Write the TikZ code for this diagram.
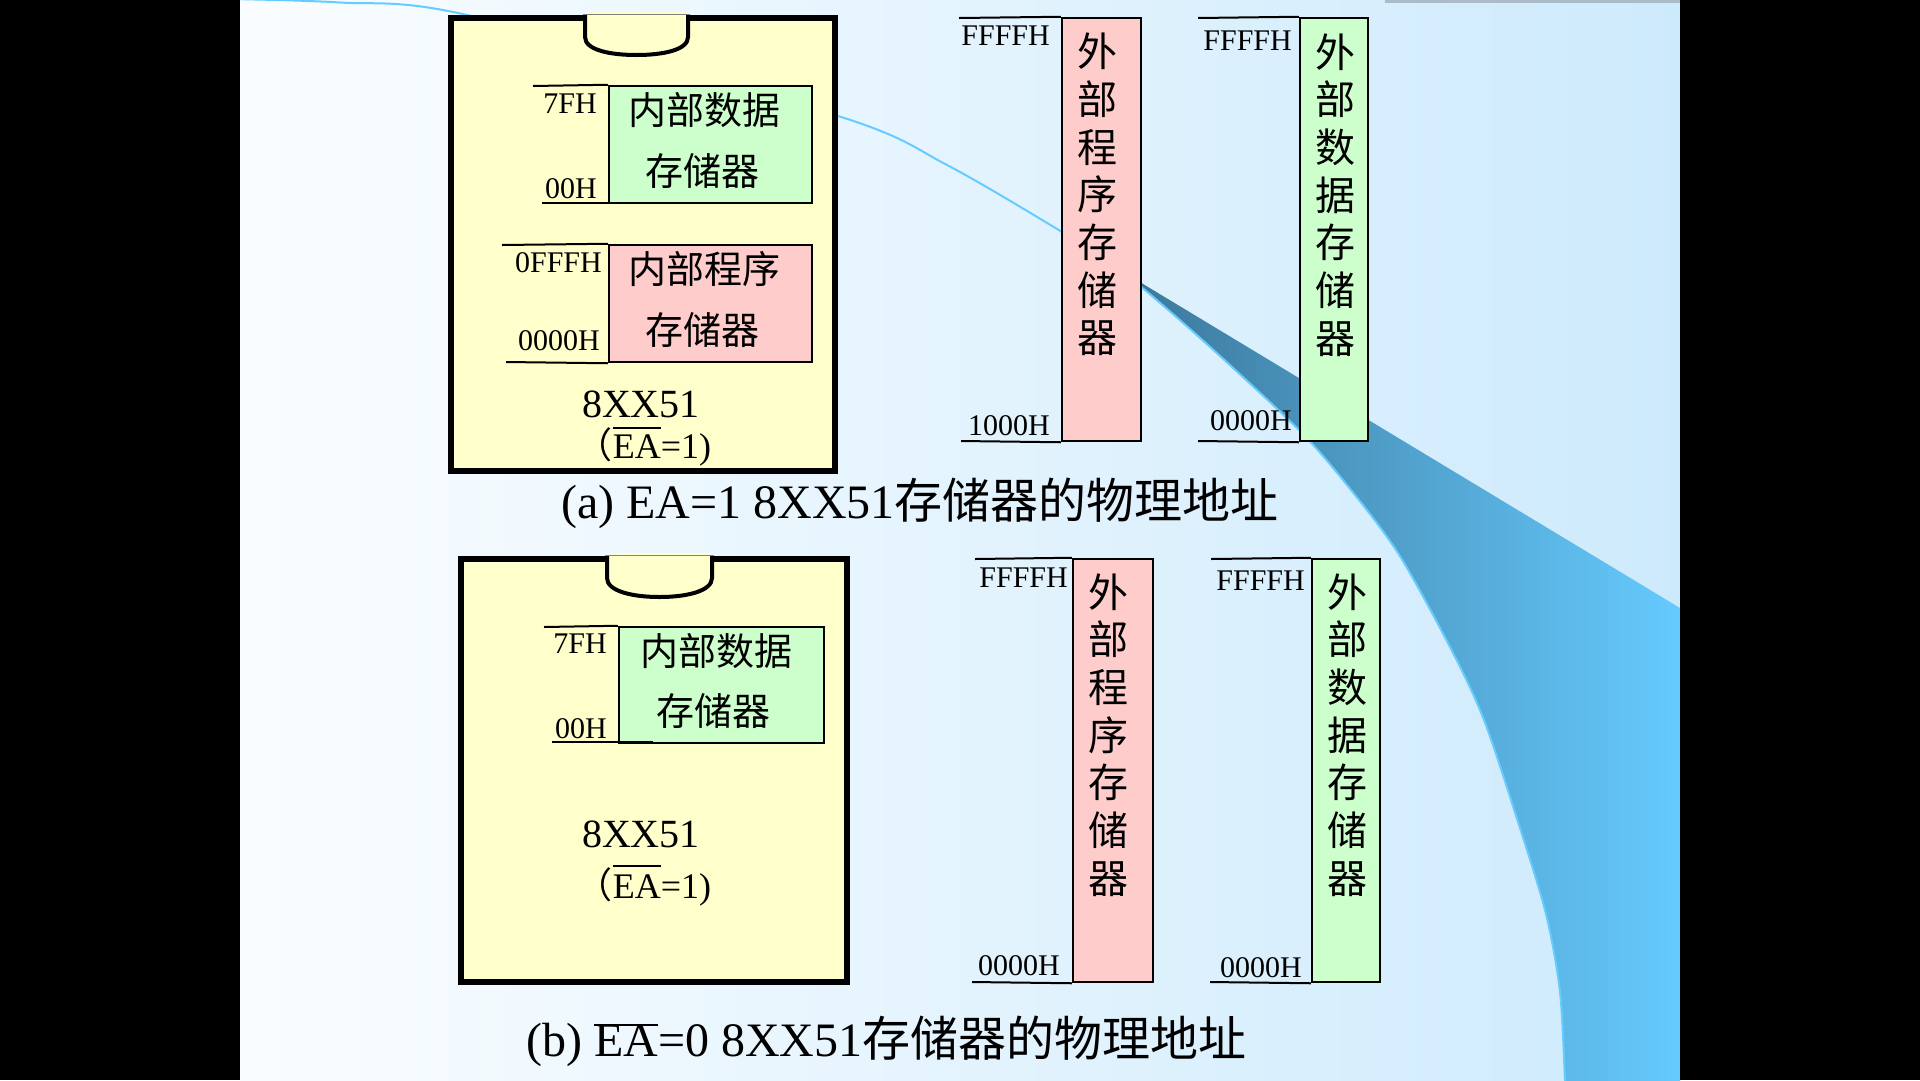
\documentclass[tikz,border=0pt]{standalone}
\usepackage{fontspec}
\setmainfont{Liberation Serif}
\newfontfamily\cjk{Noto Sans CJK SC}
\usetikzlibrary{fit}
\definecolor{chipyellow}{HTML}{FFFFCC}
\definecolor{memgreen}{HTML}{CCFFCC}
\definecolor{mempink}{HTML}{FFCCCC}
\definecolor{bgL}{RGB}{250,253,255}
\definecolor{bgM}{RGB}{238,248,255}
\definecolor{bgR}{RGB}{205,234,252}
\definecolor{swA}{RGB}{58,115,150}
\definecolor{swM}{RGB}{82,165,215}
\definecolor{swB}{RGB}{102,204,255}
\definecolor{arcline}{RGB}{102,204,255}
\definecolor{topshade}{RGB}{170,188,200}
\newcommand\ovl[2]{\setbox0\hbox{#2}\rlap{\rule[\dimexpr\ht0+#1\relax]{\wd0}{2pt}}\box0}
\tikzset{
  chip/.style={draw, line width=6pt, fill=chipyellow, rectangle, inner sep=0pt},
  mem/.style={draw, line width=2.5pt, rectangle, inner sep=0pt},
  lead/.style={line width=2pt},
  addr/.style={inner sep=0pt, anchor=base east, font=\fontsize{30}{30}\selectfont},
  cjklbl/.style={inner sep=0pt, font=\cjk\fontsize{38}{38}\selectfont},
  vlbl/.style={inner sep=0pt, align=center, font=\cjk\fontsize{40}{47.7}\selectfont},
  chipname/.style={inner sep=0pt, anchor=base, font=\fontsize{40}{40}\selectfont},
  chipmode/.style={inner sep=0pt, anchor=base, font=\fontsize{36}{36}\selectfont},
  caption/.style={inner sep=0pt, anchor=base west, font=\fontsize{48}{48}\selectfont},
  notch/.style={line width=4pt, fill=chipyellow},
  arc/.style={arcline, line width=2pt}
}
\begin{document}
\begin{tikzpicture}[x=1pt,y=-1pt]
\useasboundingbox (0,0) rectangle (1920,1080);
% slide background
\shade[left color=bgL, middle color=bgM, right color=bgR] (240,0) rectangle (1680,1080);
\begin{scope}
  \clip (240,0) rectangle (1680,1080);
  \shade[left color=swA, middle color=swM, right color=swB]
    plot[smooth] coordinates {(1100,258) (1140,286) (1209,346) (1299,430) (1347,485) (1398,553) (1450,647) (1484,720) (1519,825) (1546,914) (1560,992) (1565,1080) (1566,1092)}
    -- (1690,1092) -- (1690,614) -- cycle;
  \draw[arc] plot[smooth] coordinates {(230,-1) (340,2.5) (467,15) (838,116) (947,165) (1062,232) (1100,258)};
  \draw[arc] plot[smooth] coordinates {(1100,258) (1140,286) (1209,346) (1299,430) (1347,485) (1398,553) (1450,647) (1484,720) (1519,825) (1546,914) (1560,992) (1565,1080) (1566,1092)};
  \fill[topshade] (1385,0) rectangle (1680,3);
\end{scope}
\fill[black] (0,0) rectangle (240,1080);
\fill[black] (1680,0) rectangle (1920,1080);

% ===== (a) =====
\node[chip, fit={(451,18)(835,471)}] (chipA) {};
\fill[chipyellow] (587,12) rectangle (686,22);
\draw[notch] (585,15) -- (585,37) .. controls (585,50) and (610,55) .. (636.5,55) .. controls (663,55) and (688,50) .. (688,37) -- (688,15);
\draw[gray, line width=1pt] (583,14.5) -- (690,14.5);

\node[mem, fill=memgreen, fit={(609,86)(812,203)}] (dataA) {};
\node[cjklbl] (dataAl1) at (704,110) {内部数据};
\node[cjklbl] (dataAl2) at (702,171) {存储器};
\coordinate (a7fh) at (533,86);
\coordinate (a00hL) at (542,203);
\coordinate (a00hR) at (643,203);
\draw[lead] (a7fh) -- (dataA.north west);
\draw[lead] (a00hL) -- (a00hR);
\node[addr] (la7fh) at (597,113) {7FH};
\node[addr] (la00h) at (597,198) {00H};

\node[mem, fill=mempink, fit={(609,245)(812,362)}] (progA) {};
\node[cjklbl] (progAl1) at (704,269) {内部程序};
\node[cjklbl] (progAl2) at (702,330) {存储器};
\coordinate (a0fffh) at (502,245);
\coordinate (a0000h) at (506,362);
\draw[lead] (a0fffh) -- (progA.north west);
\draw[lead] (a0000h) -- (progA.south west);
\node[addr] (la0fffh) at (602,272) {0FFFH};
\node[addr] (la0000h) at (600,350) {0000H};

\node[chipname] (nameA) at (641,417) {8XX51};
\node[chipmode] (modeA) at (644,458) {{\cjk （}\ovl{5pt}{EA}=1)};

\node[mem, fill=mempink, fit={(1062,18)(1141,441)}] (extPA) {};
\node[vlbl] (extPAl) at (1097,194.5) {外\\部\\程\\序\\存\\储\\器};
\coordinate (aPtop) at (959,18);
\coordinate (aPbot) at (961,441);
\draw[lead] (aPtop) -- (extPA.north west);
\draw[lead] (aPbot) -- (extPA.south west);
\node[addr] (laPtop) at (1050,45) {FFFFH};
\node[addr] (laPbot) at (1050,435) {1000H};

\node[mem, fill=memgreen, fit={(1300,18)(1368,441)}] (extDA) {};
\node[vlbl] (extDAl) at (1335,195) {外\\部\\数\\据\\存\\储\\器};
\coordinate (aDtop) at (1198,18);
\coordinate (aDbot) at (1198,441);
\draw[lead] (aDtop) -- (extDA.north west);
\draw[lead] (aDbot) -- (extDA.south west);
\node[addr] (laDtop) at (1292,50) {FFFFH};
\node[addr] (laDbot) at (1292,430) {0000H};

\node[caption] (capA) at (561,518) {(a) EA=1 8XX51{\cjk 存储器的物理地址}};

% ===== (b) =====
\node[chip, fit={(461,559)(847,982)}] (chipB) {};
\fill[chipyellow] (609,553) rectangle (710,563);
\draw[notch] (607,556) -- (607,578) .. controls (607,591) and (632,597) .. (659.5,597) .. controls (687,597) and (712,591) .. (712,578) -- (712,556);
\draw[gray, line width=1pt] (605,555.5) -- (714,555.5);

\node[mem, fill=memgreen, fit={(619,627)(824,743)}] (dataB) {};
\node[cjklbl] (dataBl1) at (716,651) {内部数据};
\node[cjklbl] (dataBl2) at (713,711) {存储器};
\coordinate (b7fh) at (544,627);
\coordinate (b00hL) at (552,742);
\coordinate (b00hR) at (653,742);
\draw[lead] (b7fh) -- (dataB.north west);
\draw[lead] (b00hL) -- (b00hR);
\node[addr] (lb7fh) at (607,653) {7FH};
\node[addr] (lb00h) at (607,738) {00H};

\node[chipname] (nameB) at (641,847) {8XX51};
\node[chipmode] (modeB) at (644,898) {{\cjk （}\ovl{7pt}{EA}=1)};

\node[mem, fill=mempink, fit={(1073,559)(1153,982)}] (extPB) {};
\node[vlbl] (extPBl) at (1108,735) {外\\部\\程\\序\\存\\储\\器};
\coordinate (bPtop) at (975,559);
\coordinate (bPbot) at (972,982);
\draw[lead] (bPtop) -- (extPB.north west);
\draw[lead] (bPbot) -- (extPB.south west);
\node[addr] (lbPtop) at (1068,587) {FFFFH};
\node[addr] (lbPbot) at (1060,975) {0000H};

\node[mem, fill=memgreen, fit={(1312,559)(1380,982)}] (extDB) {};
\node[vlbl] (extDBl) at (1347,735) {外\\部\\数\\据\\存\\储\\器};
\coordinate (bDtop) at (1211,559);
\coordinate (bDbot) at (1210,982);
\draw[lead] (bDtop) -- (extDB.north west);
\draw[lead] (bDbot) -- (extDB.south west);
\node[addr] (lbDtop) at (1305,590) {FFFFH};
\node[addr] (lbDbot) at (1302,977) {0000H};

\node[caption] (capB) at (526,1056) {(b) \ovl{-2pt}{EA}=0 8XX51{\cjk 存储器的物理地址}};
\end{tikzpicture}
\end{document}
